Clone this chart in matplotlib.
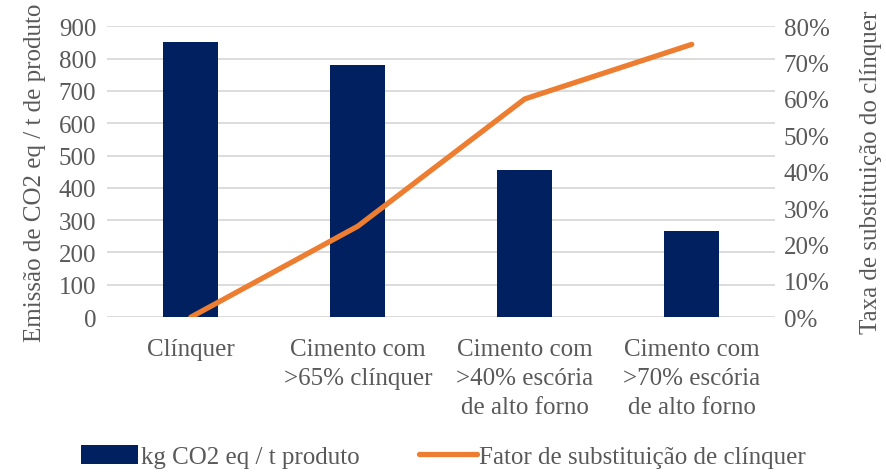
import matplotlib.pyplot as plt
from matplotlib.ticker import PercentFormatter

categorias = ["Clínquer", "Cimento com\n>65% clínquer", "Cimento com\n>40% escória\nde alto forno",
              "Cimento com\n>70% escória\nde alto forno"]
emissoes = [850, 780, 455, 265]
fator_substituicao = [0, 25, 60, 75]

fonte = "Liberation Serif"
cinza = "#595959"
tam = 18

fig = plt.figure(figsize=(8.87, 4.77), dpi=100)
ax = fig.add_axes([0.121, 0.333, 0.753, 0.61])
ax2 = ax.twinx()

x = range(len(categorias))
ax.bar(x, emissoes, width=0.33, color="#002060", label="kg CO2 eq / t produto", zorder=2)
ax2.plot(x, fator_substituicao, color="#ED7D31", linewidth=3.8, solid_capstyle="round",
         label="Fator de substituição de clínquer")

ax.set_xlim(-0.5, 3.5)
ax.set_ylim(0, 900)
ax.set_yticks(range(0, 901, 100))
ax2.set_ylim(0, 80)
ax2.set_yticks(range(0, 81, 10))
ax2.yaxis.set_major_formatter(PercentFormatter(decimals=0))

ax.set_xticks(list(x))
ax.set_xticklabels(categorias, linespacing=1.42)
ax.grid(axis="y", color="#d9d9d9", linewidth=1.3, zorder=0)
ax.set_axisbelow(True)

for a in (ax, ax2):
    for s in a.spines.values():
        s.set_visible(False)
    a.tick_params(length=0, labelsize=tam, labelcolor=cinza)
ax.tick_params(axis="x", pad=15)
ax.tick_params(axis="y", pad=8)
ax2.tick_params(axis="y", pad=6)

ax.set_ylabel("Emissão de CO2 eq / t de produto", fontsize=tam, color=cinza, labelpad=9,
              family=fonte)
ax2.set_ylabel("Taxa de substituição do clínquer", fontsize=tam, color=cinza, labelpad=22,
               family=fonte)

fig.canvas.draw()
for rotulo in ax.get_xticklabels() + ax.get_yticklabels() + ax2.get_yticklabels():
    rotulo.set_family(fonte)

h1, l1 = ax.get_legend_handles_labels()
h2, l2 = ax2.get_legend_handles_labels()
fig.legend(h1 + h2, l1 + l2, loc="lower center", bbox_to_anchor=(0.5, -0.03), ncol=2,
           frameon=False, prop={"family": fonte, "size": tam}, labelcolor=cinza,
           handlelength=2.3, handleheight=0.8, handletextpad=0.1, columnspacing=2.4)

fig.savefig("out.png", dpi=100)
